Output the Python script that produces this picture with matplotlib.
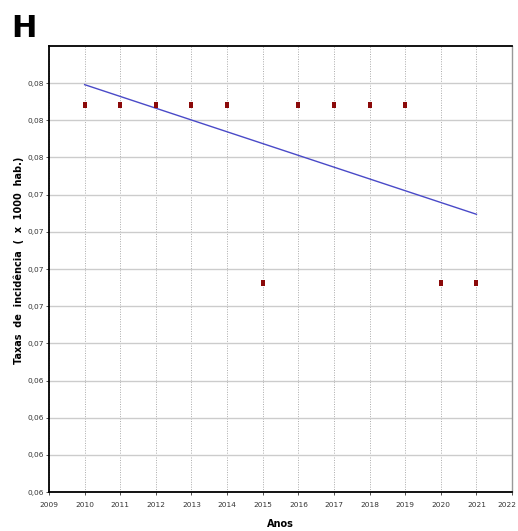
import numpy as np
import matplotlib.pyplot as plt
from matplotlib.ticker import FixedLocator, FuncFormatter
from matplotlib.transforms import ScaledTranslation

# taxas de incidência por ano (x 1000 hab.)
anos = [2010, 2011, 2012, 2013, 2014, 2015, 2016, 2017, 2018, 2019, 2020, 2021]
taxas = [0.0799, 0.0799, 0.0799, 0.0799, 0.0799, 0.0694,
         0.0799, 0.0799, 0.0799, 0.0799, 0.0694, 0.0694]

# ticks do eixo y (rótulos arredondados a 2 casas, como no software original)
y_ticks = [0.057 + i * 0.0022 for i in range(12)]
x_ticks = list(range(2009, 2023))

plt.rcParams['font.family'] = ['Liberation Sans Narrow', 'DejaVu Sans']

fig = plt.figure(figsize=(5.18, 5.31), dpi=100)
ax = fig.add_axes([0.0946, 0.0734, 0.894, 0.840])

# linha de tendência (regressão linear)
coef = np.polyfit(anos, taxas, 1)
ax.plot([anos[0], anos[-1]], np.polyval(coef, [anos[0], anos[-1]]),
        color='#4a4ac8', lw=1.0, zorder=3)

# marcador retangular (mais alto que largo)
ret = np.array([[-0.6, -1], [0.6, -1], [0.6, 1], [-0.6, 1], [-0.6, -1]])
ax.scatter(anos, taxas, marker=ret, s=24, color='#8b0a0a', zorder=4, linewidths=0)

ax.set_xlim(2009, 2022)
ax.set_ylim(0.057, 0.057 + 12 * 0.0022)
ax.xaxis.set_major_locator(FixedLocator(x_ticks))
ax.yaxis.set_major_locator(FixedLocator(y_ticks))
ax.yaxis.set_major_formatter(FuncFormatter(lambda v, p: f"{v:.2f}".replace('.', ',')))

ax.grid(axis='y', color='#cccccc', lw=1.0, ls='-')
ax.grid(axis='x', color='#aaaaaa', lw=0.7, ls=(0, (1, 1.5)))
ax.set_axisbelow(True)

ax.tick_params(axis='both', labelsize=5.3, length=2, width=0.6, colors='#333333')
ax.tick_params(axis='x', pad=5)
ax.tick_params(axis='y', pad=1.5)

# último rótulo do eixo x puxado um pouco para dentro
fig.canvas.draw()
ultimo = ax.get_xticklabels()[-1]
ultimo.set_transform(ultimo.get_transform() + ScaledTranslation(-4 / 72, 0, fig.dpi_scale_trans))

for s in ['left', 'bottom', 'top']:
    ax.spines[s].set_color('black')
    ax.spines[s].set_linewidth(1.3)
ax.spines['right'].set_color('#999999')
ax.spines['right'].set_linewidth(1.0)

ax.set_xlabel('Anos', fontsize=7, fontweight='bold', labelpad=8)
fig.text(0.036, 0.51, 'Taxas  de  incidência  (  x  1000  hab.)', rotation=90,
         ha='center', va='center', fontsize=7, fontweight='bold', family='DejaVu Sans')

fig.text(0.022, 0.930, 'H', fontsize=22, fontweight='bold', family='DejaVu Sans')

fig.savefig('out.png', dpi=100)
